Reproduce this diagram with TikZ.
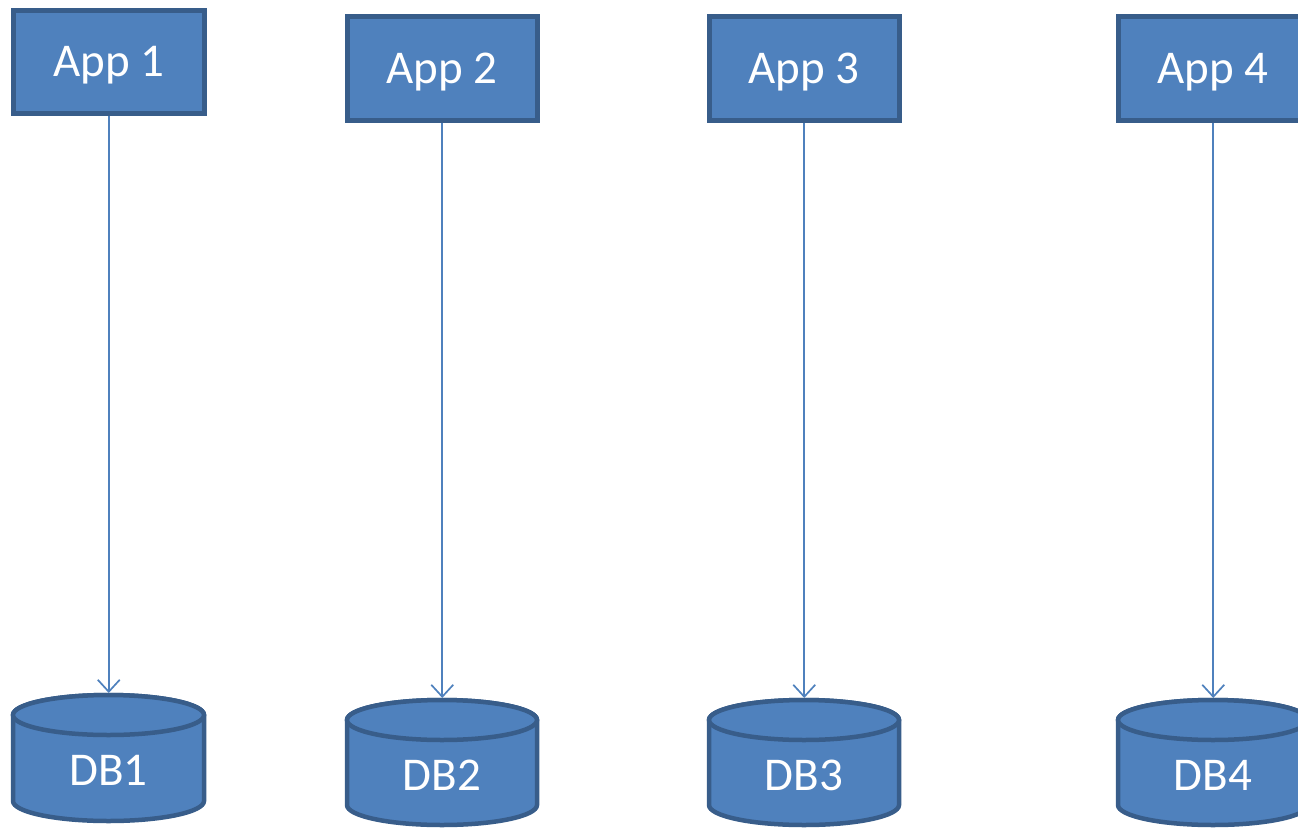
\documentclass[tikz,border=0pt]{standalone}
\usepackage{fontspec}
\setmainfont{Carlito}
\usetikzlibrary{arrows.meta}
\definecolor{fillblue}{HTML}{4F81BD}
\definecolor{edgeblue}{HTML}{385D8A}
\begin{document}
\begin{tikzpicture}[x=1pt,y=-1pt,
  appbox/.style={draw=edgeblue,fill=fillblue,line width=4.5pt,text=white,
    font=\fontsize{47}{56}\selectfont,inner sep=0pt,text depth=0pt,anchor=north west},
  dblabel/.style={text=white,font=\fontsize{47}{56}\selectfont,inner sep=0pt},
  dbbody/.style={draw=edgeblue,fill=fillblue,line width=4.5pt},
  link/.style={draw=fillblue,line width=1.7pt,-{Straight Barb[length=12pt,width=22pt,line width=1.7pt]}}]
\useasboundingbox (0,0) rectangle (1298,827);
\begin{scope}
\clip (0,0) rectangle (1298,827);
% App boxes
\node[appbox,minimum width=191pt,minimum height=103pt] (app1) at (11,8) {App 1};
\node[appbox,minimum width=190pt,minimum height=104pt] (app2) at (345,14) {App 2};
\node[appbox,minimum width=190pt,minimum height=104pt] (app3) at (707,14) {App 3};
\node[appbox,minimum width=190pt,minimum height=104pt] (app4) at (1116,14) {App 4};
% DB cylinders
\foreach \cx/\rx/\yt/\yb in {108.5/95.5/715/801, 442/95/720/805, 804/95/720/805, 1213/95/720/805}{
  \path[dbbody] (\cx-\rx,\yt) -- (\cx-\rx,\yb) arc[start angle=180,end angle=360,x radius=\rx,y radius=-20] -- (\cx+\rx,\yt) arc[start angle=0,end angle=180,x radius=\rx,y radius=-20] -- cycle;
  \path[dbbody] (\cx,\yt) ellipse[x radius=\rx,y radius=20];
}
\node[dblabel] (db1) at (108.5,770) {DB1};
\node[dblabel] (db2) at (442,775) {DB2};
\node[dblabel] (db3) at (804,775) {DB3};
\node[dblabel] (db4) at (1213,775) {DB4};
\coordinate (db1top) at (108.5,693);
\coordinate (db2top) at (442,698);
\coordinate (db3top) at (804,698);
\coordinate (db4top) at (1213,698);
% Connectors
\draw[link] (app1.south) -- (app1.south |- db1top);
\draw[link] (app2.south) -- (app2.south |- db2top);
\draw[link] (app3.south) -- (app3.south |- db3top);
\draw[link] (app4.south) -- (app4.south |- db4top);
\end{scope}
\end{tikzpicture}
\end{document}
